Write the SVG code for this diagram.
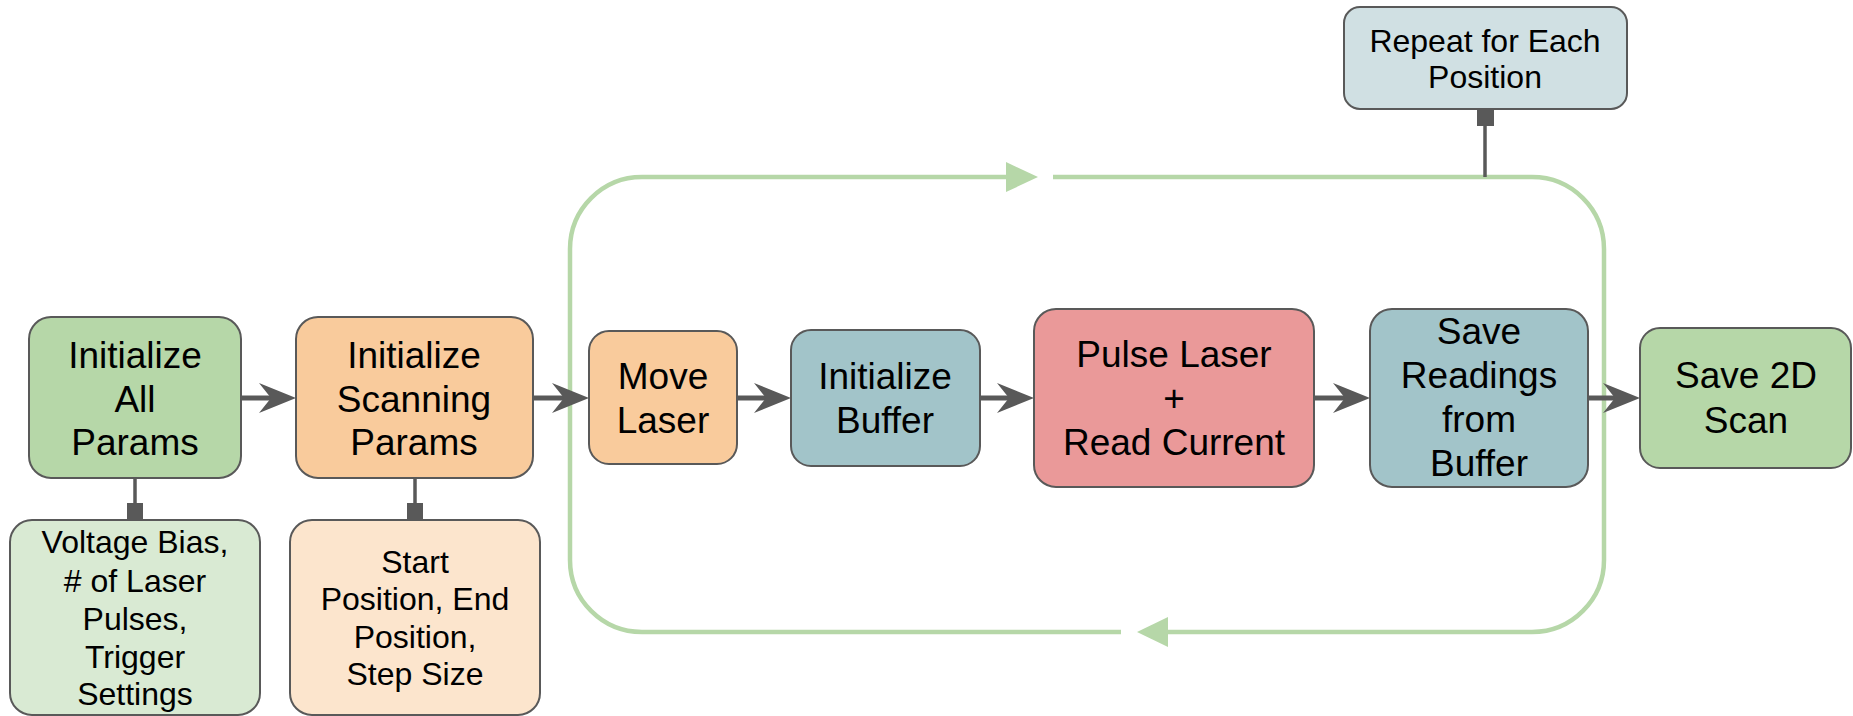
<svg xmlns="http://www.w3.org/2000/svg" width="1853" height="716" viewBox="0 0 1853 716">
<defs>
<style>
.box{stroke:#595959;stroke-width:2}
.t{font-family:"Liberation Sans",Arial,sans-serif;font-size:37px;fill:#000;text-anchor:middle}
.s{font-family:"Liberation Sans",Arial,sans-serif;font-size:32px;fill:#000;text-anchor:middle}
.g{fill:#b6d7a8}.o{fill:#f9cb9c}.b{fill:#a2c4c9}.r{fill:#ea9999}
.lg{fill:#d9ead3}.lo{fill:#fce5cd}.lb{fill:#d0e0e3}
.loop{fill:none;stroke:#b6d7a8;stroke-width:4.5}
.la{fill:#b6d7a8}
.ar{stroke:#595959;stroke-width:5;fill:none}
.ah{fill:#595959}
.cn{stroke:#595959;stroke-width:3.5;fill:none}
</style>
</defs>
<g id="connectors">
<path class="loop" d="M1121 632 H642 A72 72 0 0 1 570 560 V249 A72 72 0 0 1 642 177 H1008"/>
<polygon class="la" points="1006,162 1038,177 1006,192"/>
<path class="loop" d="M1053 177 H1532 A72 72 0 0 1 1604 249 V560 A72 72 0 0 1 1532 632 H1166"/>
<polygon class="la" points="1168,617 1137,632 1168,647"/>
<path class="ar" d="M241 398 H272"/><polygon class="ah" points="296,398 259,383 271,398 259,413"/>
<path class="ar" d="M533 398 H565"/><polygon class="ah" points="589,398 552,383 564,398 552,413"/>
<path class="ar" d="M737 398 H767"/><polygon class="ah" points="791,398 754,383 766,398 754,413"/>
<path class="ar" d="M980 398 H1010"/><polygon class="ah" points="1034,398 997,383 1009,398 997,413"/>
<path class="ar" d="M1314 398 H1346"/><polygon class="ah" points="1370,398 1333,383 1345,398 1333,413"/>
<path class="ar" d="M1588 398 H1616"/><polygon class="ah" points="1640,398 1603,383 1615,398 1603,413"/>
<path class="cn" d="M135 478 V505"/><rect class="ah" x="127" y="503" width="16" height="17"/>
<path class="cn" d="M415 478 V505"/><rect class="ah" x="407" y="503" width="16" height="17"/>
<path class="cn" d="M1485 124 V177"/><rect class="ah" x="1477" y="109" width="17" height="17"/>
</g>
<g id="n-init-all"><rect class="box g" x="29" y="317" width="212" height="161" rx="22"/>
<text class="t" x="135" y="368">Initialize</text><text class="t" x="135" y="412">All</text><text class="t" x="135" y="455">Params</text></g>
<g id="n-init-scan"><rect class="box o" x="296" y="317" width="237" height="161" rx="22"/>
<text class="t" x="414" y="368">Initialize</text><text class="t" x="414" y="412">Scanning</text><text class="t" x="414" y="455">Params</text></g>
<g id="n-voltage"><rect class="box lg" x="10" y="520" width="250" height="195" rx="22"/>
<text class="s" x="135" y="553">Voltage Bias,</text><text class="s" x="135" y="592">#&#160;of Laser</text><text class="s" x="135" y="630">Pulses,</text><text class="s" x="135" y="668">Trigger</text><text class="s" x="135" y="705">Settings</text></g>
<g id="n-start"><rect class="box lo" x="290" y="520" width="250" height="195" rx="22"/>
<text class="s" x="415" y="573">Start</text><text class="s" x="415" y="610">Position, End</text><text class="s" x="415" y="648">Position,</text><text class="s" x="415" y="685">Step Size</text></g>
<g id="n-move"><rect class="box o" x="589" y="331" width="148" height="133" rx="20"/>
<text class="t" x="663" y="389">Move</text><text class="t" x="663" y="433">Laser</text></g>
<g id="n-init-buf"><rect class="box b" x="791" y="330" width="189" height="136" rx="20"/>
<text class="t" x="885" y="389">Initialize</text><text class="t" x="885" y="433">Buffer</text></g>
<g id="n-pulse"><rect class="box r" x="1034" y="309" width="280" height="178" rx="22"/>
<text class="t" x="1174" y="367">Pulse Laser</text><text class="t" x="1174" y="411">+</text><text class="t" x="1174" y="455">Read Current</text></g>
<g id="n-save-read"><rect class="box b" x="1370" y="309" width="218" height="178" rx="22"/>
<text class="t" x="1479" y="344">Save</text><text class="t" x="1479" y="388">Readings</text><text class="t" x="1479" y="432">from</text><text class="t" x="1479" y="476">Buffer</text></g>
<g id="n-save-2d"><rect class="box g" x="1640" y="328" width="211" height="140" rx="20"/>
<text class="t" x="1746" y="388">Save 2D</text><text class="t" x="1746" y="433">Scan</text></g>
<g id="n-repeat"><rect class="box lb" x="1344" y="7" width="283" height="102" rx="16"/>
<text class="s" x="1485" y="52">Repeat for Each</text><text class="s" x="1485" y="88">Position</text></g>
</svg>
